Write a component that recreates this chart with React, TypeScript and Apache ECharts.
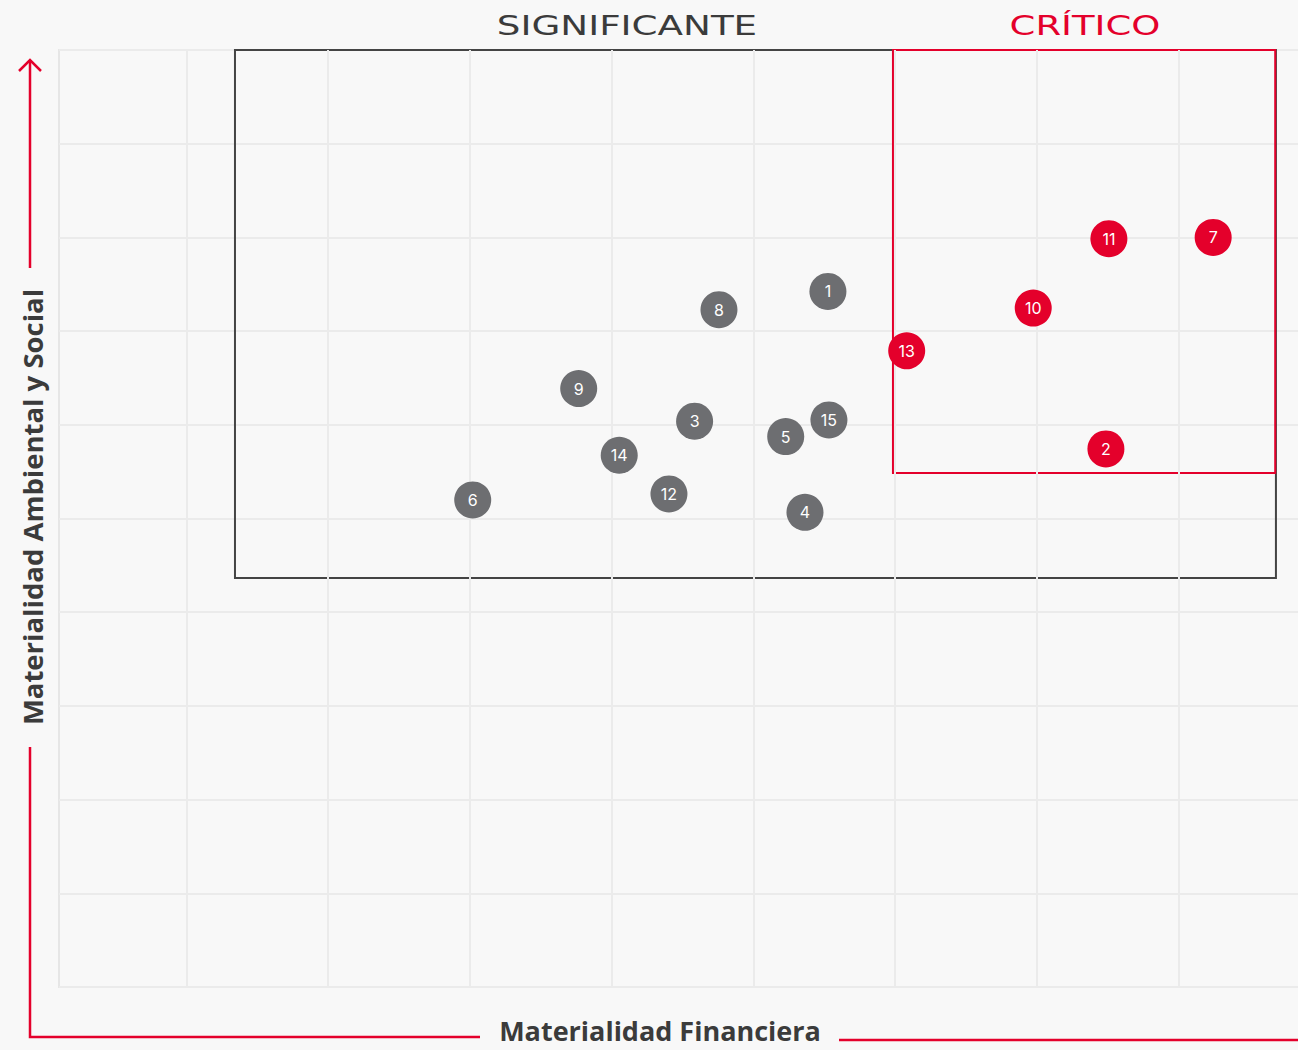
import React, { useEffect, useRef } from "react";
import * as echarts from "echarts";

// Topic numbers and positions (grid units)
const significantIds = ["1", "8", "9", "3", "15", "5", "14", "12", "6", "4"];
const significantX = [5.527, 4.758, 3.768, 4.586, 5.534, 5.229, 4.054, 4.405, 3.02, 5.365];
const significantY = [7.423, 7.228, 6.387, 6.038, 6.052, 5.874, 5.675, 5.262, 5.198, 5.066];

const criticalIds = ["11", "7", "10", "13", "2"];
const criticalX = [7.51, 8.246, 6.976, 6.083, 7.489];
const criticalY = [7.986, 8.0, 7.246, 6.79, 5.743];

// Zone boxes [xMin, yMax, xMax, yMin]
const significantZone = [1.342, 10, 8.689, 4.364];
const criticalZone = [5.986, 10, 8.684, 5.486];
const zoneTitles = ["SIGNIFICANTE", "CRÍTICO"];
const verticalGridValues = [1, 2, 3, 4, 5, 6, 7, 8];

const axisXTitle = "Materialidad Financiera";
const axisYTitle = "Materialidad Ambiental y Social";

const RED = "#e4002b";
const GRAY = "#6d6e71";
const DARK = "#3b3b3b";
const GRID = "#ebebeb";
const BG = "#f8f8f8";

export default function App() {
  const ref = useRef<HTMLDivElement>(null);

  useEffect(() => {
    if (!ref.current) return;
    const chart = echarts.init(ref.current, undefined, { renderer: "svg" });
    const sig = significantIds.map((id, i) => ({ name: id, value: [significantX[i], significantY[i]] }));
    const crit = criticalIds.map((id, i) => ({ name: id, value: [criticalX[i], criticalY[i]] }));
    const bubbleLabel = {
      show: true,
      position: "inside",
      formatter: "{b}",
      color: "#ffffff",
      fontSize: 16,
      fontFamily: "Inter, 'Liberation Sans', sans-serif",
    };
    const titleFont = {
      fontSize: 27,
      fontFamily: "'DejaVu Sans', sans-serif",
      align: "center",
      verticalAlign: "middle",
    };
    const axisFont = {
      fontSize: 27.5,
      lineHeight: 26,
      fontWeight: "bold",
      fontFamily: "'Open Sans', sans-serif",
      align: "center",
      verticalAlign: "middle",
      fill: DARK,
    };
    const option: any = {
      animation: false,
      backgroundColor: BG,
      grid: {
        left: 59,
        top: 50,
        width: 1261,
        height: 937,
        show: true,
        borderColor: "#e6e6e6",
        borderWidth: 2,
        backgroundColor: "transparent",
      },
      xAxis: {
        type: "value",
        min: 0.1,
        max: 9,
        axisLine: { show: false },
        axisTick: { show: false },
        axisLabel: { show: false },
        splitLine: { show: false },
      },
      yAxis: {
        type: "value",
        min: 0,
        max: 10,
        interval: 1,
        axisLine: { show: false },
        axisTick: { show: false },
        axisLabel: { show: false },
        splitLine: { show: true, lineStyle: { color: GRID, width: 2 } },
      },
      series: [
        {
          type: "scatter",
          data: [],
          silent: true,
          z: 1,
          markLine: {
            silent: true,
            symbol: ["none", "none"],
            label: { show: false },
            lineStyle: { color: GRID, width: 2, type: "solid" },
            data: verticalGridValues.map((v) => ({ xAxis: v })),
          },
        },
        {
          type: "scatter",
          data: [],
          silent: true,
          z: 2,
          markArea: {
            silent: true,
            itemStyle: { color: "rgba(0,0,0,0)", borderColor: "#444444", borderWidth: 2 },
            label: { show: false },
            data: [
              [
                { xAxis: significantZone[0], yAxis: significantZone[1] },
                { xAxis: significantZone[2], yAxis: significantZone[3] },
              ],
            ],
          },
        },
        {
          type: "scatter",
          data: [],
          silent: true,
          z: 3,
          markArea: {
            silent: true,
            itemStyle: { color: "rgba(0,0,0,0)", borderColor: RED, borderWidth: 2 },
            label: { show: false },
            data: [
              [
                { xAxis: criticalZone[0], yAxis: criticalZone[1] },
                { xAxis: criticalZone[2], yAxis: criticalZone[3] },
              ],
            ],
          },
        },
        {
          name: "Significante",
          type: "scatter",
          z: 5,
          symbolSize: 37,
          itemStyle: { color: GRAY, opacity: 1 },
          label: bubbleLabel,
          data: sig,
        },
        {
          name: "Crítico",
          type: "scatter",
          z: 6,
          symbolSize: 37,
          itemStyle: { color: RED, opacity: 1 },
          label: bubbleLabel,
          data: crit,
        },
      ],
      graphic: [
        {
          type: "text",
          x: 627,
          y: 26,
          scaleX: 1.38,
          style: { ...titleFont, text: zoneTitles[0], fill: DARK },
        },
        {
          type: "text",
          x: 1085,
          y: 26,
          scaleX: 1.37,
          style: { ...titleFont, text: zoneTitles[1], fill: RED },
        },
        {
          type: "text",
          x: 32,
          y: 507,
          rotation: Math.PI / 2,
          style: { ...axisFont, text: axisYTitle },
        },
        {
          type: "text",
          x: 660,
          y: 1030,
          style: { ...axisFont, fontSize: 27, text: axisXTitle },
        },
        {
          type: "polyline",
          shape: { points: [[19, 71], [30, 60], [41, 71]] },
          style: { stroke: RED, lineWidth: 2.5, fill: null },
        },
        {
          type: "line",
          shape: { x1: 30, y1: 60, x2: 30, y2: 268 },
          style: { stroke: RED, lineWidth: 2.5 },
        },
        {
          type: "polyline",
          shape: { points: [[30, 747], [30, 1037], [480, 1037]] },
          style: { stroke: RED, lineWidth: 2.5, fill: null },
        },
        {
          type: "line",
          shape: { x1: 839, y1: 1040, x2: 1340, y2: 1040 },
          style: { stroke: RED, lineWidth: 2.5 },
        },
      ],
    };
    chart.setOption(option);
    return () => chart.dispose();
  }, []);

  return (
    <div
      style={{
        position: "fixed",
        left: 0,
        top: 0,
        width: 1298,
        height: 1050,
        overflow: "hidden",
        background: BG,
      }}
    >
      <div ref={ref} style={{ width: 1340, height: 1050 }} />
    </div>
  );
}
